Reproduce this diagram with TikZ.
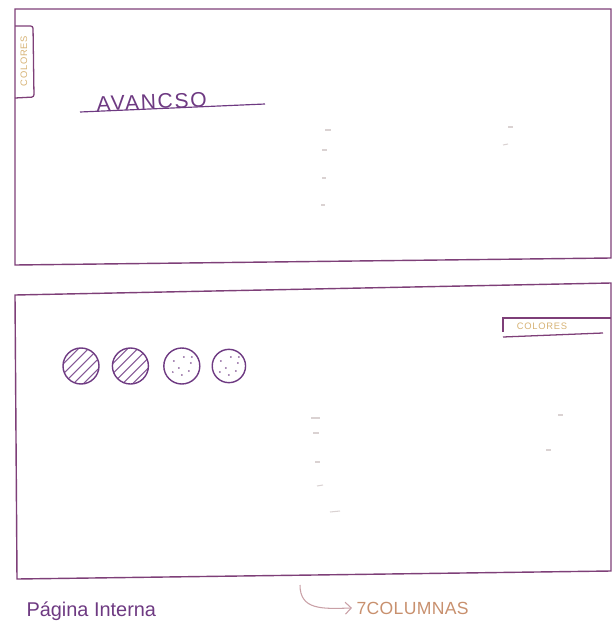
\documentclass[tikz,border=0pt]{standalone}
\usepackage{fontspec}
\setmainfont{Liberation Sans}
\usetikzlibrary{arrows.meta, positioning}
\definecolor{cpen}{HTML}{7E3F78}
\definecolor{cink}{HTML}{6E3A82}
\definecolor{cyellow}{HTML}{D6B274}
\definecolor{cpeach}{HTML}{C8906E}
\definecolor{ccurve}{HTML}{C9A0A6}
\definecolor{cfaint}{HTML}{DAD2D2}
\tikzset{
  every picture/.style={line width=1.1pt, x=0.03cm, y=-0.03cm},
  frame/.style={draw=cpen, line width=1.2pt},
  tab/.style={draw=cpen, line width=1.1pt},
  disc/.style={circle, draw=cink, line width=1.2pt, minimum size=1.08cm, inner sep=0pt},
  hatched/.style={disc, path picture={
      \foreach \k in {-30,-20,...,30}
        \draw[cink!85, line width=0.9pt] (path picture bounding box.center) ++(\k-20,20) -- ++(40,-40);}},
  speckled/.style={disc, path picture={
      \foreach \p in {(-8,-5),(2,-9),(9,-3),(-3,2),(7,5),(-9,6),(0,9),(10,-9)}
        \fill[cink!80] (path picture bounding box.center) ++\p circle (0.8pt);}},
  faint/.style={draw=cfaint, line width=0.9pt},
  pencil/.style={text=cyellow, font=\fontsize{8}{8}\selectfont\addfontfeatures{LetterSpace=8}},
}

\begin{document}
\begin{tikzpicture}
  \useasboundingbox (0,0) rectangle (613,640);

  % upper frame
  \draw[frame] (15,9) -- (611,9) -- (611,258) -- (15,265) -- cycle;
  \draw[tab, rounded corners=2pt] (15,26) -- (33,26) -- (34,97) -- (15,98);
  \node[pencil, rotate=90] (tabup) at (24,61) {COLORES};
  \node[text=cink, font=\fontsize{18}{18}\selectfont\addfontfeatures{LetterSpace=8}, anchor=base, rotate=2.5, inner sep=1pt] (avance) at (152,109) {AVANCSO};
  \draw[draw=cink, line width=1pt] (80,112) -- (265,104);
  \foreach \a/\b in {{(325,130)}/{(331,130)},{(322,150)}/{(327,150)},{(322,178)}/{(326,178)},{(321,205)}/{(325,205)},{(508,127)}/{(513,127)},{(503,145)}/{(508,144)}}
    \draw[faint] \a -- \b;

  % lower frame
  \draw[frame] (15,295) -- (611,283) -- (611,571) -- (17,579) -- cycle;
  \draw[tab] (503,332) -- (503,318) -- (611,318);
  \draw[tab] (503,337) -- (603,333);
  \node[pencil] (colores) at (542,326) {COLORES};

  \node[hatched] (c1) at (81,366) {};
  \node[hatched, right=0.36cm of c1] (c2) {};
  \node[speckled, right=0.42cm of c2] (c3) {};
  \node[speckled, minimum size=1cm, right=0.33cm of c3] (c4) {};

  \foreach \a/\b in {{(311,418)}/{(320,418)},{(313,433)}/{(319,433)},{(315,462)}/{(320,462)},{(317,486)}/{(323,485)},{(330,512)}/{(340,511)},{(558,415)}/{(563,415)},{(546,450)}/{(551,450)}}
    \draw[faint] \a -- \b;

  % caption
  \node[text=cink, font=\fontsize{17}{17}\selectfont, anchor=base west] (pagina) at (22,616) {Página Interna};
  \coordinate (hook) at (300,585);
  \node[text=cpeach, font=\fontsize{15}{15}\selectfont\addfontfeatures{LetterSpace=2}, anchor=base west] (cols) at (352,614) {7COLUMNAS};
  \draw[draw=ccurve, line width=0.9pt, -{Straight Barb[length=1.8mm]}] (hook) .. controls (300,610) and (322,609) .. (cols.west);
\end{tikzpicture}
\end{document}
